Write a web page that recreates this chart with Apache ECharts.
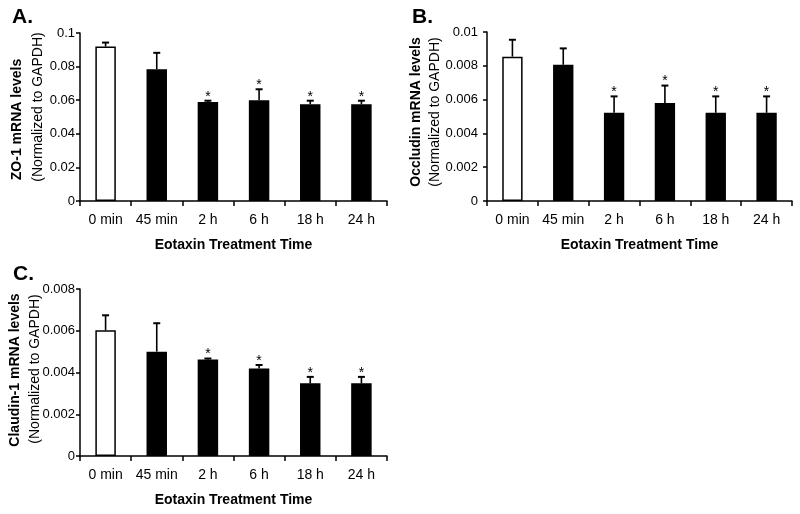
<!DOCTYPE html>
<html>
<head>
<meta charset="utf-8">
<script src="https://cdn.jsdelivr.net/npm/echarts@6/dist/echarts.min.js"></script>
<style>
html,body{margin:0;padding:0;background:#fff;}
#chart{width:800px;height:514px;}
</style>
</head>
<body>
<div id="chart"></div>
<script>
// ---- data ----
const categories = ['0 min', '45 min', '2 h', '6 h', '18 h', '24 h'];
const zo1Mean = [0.0919, 0.0784, 0.0590, 0.0599, 0.0576, 0.0576];
const zo1Err  = [0.0024, 0.0098, 0.0007, 0.0066, 0.0021, 0.0021];
const occMean = [0.00854, 0.00806, 0.00522, 0.00580, 0.00522, 0.00522];
const occErr  = [0.00100, 0.00097, 0.00097, 0.00103, 0.00097, 0.00097];
const claMean = [0.00602, 0.00500, 0.00462, 0.00419, 0.00348, 0.00348];
const claErr  = [0.00072, 0.00136, 0.00005, 0.00017, 0.00031, 0.00031];
const significant = [false, false, true, true, true, true];
const zo1Axis = {max: 0.1, interval: 0.02};
const occAxis = {max: 0.01, interval: 0.002};
const claAxis = {max: 0.008, interval: 0.002};
const panelLabels = ['A.', 'B.', 'C.'];
const yTitleBold = ['ZO-1 mRNA levels', 'Occludin mRNA levels', 'Claudin-1 mRNA levels'];
const yTitleNormal = '(Normalized to GAPDH)';
const xTitle = 'Eotaxin Treatment Time';

// ---- chart ----
const FONT = '"Liberation Sans", Arial, Helvetica, sans-serif';
const chart = echarts.init(document.getElementById('chart'), null, {renderer: 'canvas'});

const grids = [
  {left: 80, top: 33, width: 307, height: 168},
  {left: 487, top: 32, width: 305, height: 169},
  {left: 80, top: 289, width: 307, height: 167}
];
const axes = [zo1Axis, occAxis, claAxis];
const means = [zo1Mean, occMean, claMean];
const errs = [zo1Err, occErr, claErr];
const yLabelMargins = [5, 9, 5];

function renderErr(params, api) {
  const i = api.value(0);
  const p0 = api.coord([i, api.value(1)]);
  const p1 = api.coord([i, api.value(2)]);
  const children = [
    {type: 'line', shape: {x1: p0[0], y1: p0[1], x2: p1[0], y2: p1[1]}, style: {stroke: '#000', lineWidth: 1.6}},
    {type: 'line', shape: {x1: p1[0] - 3.5, y1: p1[1], x2: p1[0] + 3.5, y2: p1[1]}, style: {stroke: '#000', lineWidth: 2}}
  ];
  if (api.value(3)) {
    children.push({type: 'text', style: {text: '*', x: p1[0], y: p1[1] - 4, align: 'center', verticalAlign: 'middle', fontSize: 14, fontFamily: FONT, fill: '#000'}});
  }
  return {type: 'group', children: children};
}

const option = {
  backgroundColor: '#fff',
  animation: false,
  grid: grids.map(g => Object.assign({containLabel: false}, g)),
  xAxis: grids.map((g, k) => ({
    type: 'category', gridIndex: k, data: categories,
    axisLine: {lineStyle: {color: '#000', width: 1.5}},
    axisTick: {show: true, alignWithLabel: false, length: 5, lineStyle: {color: '#000', width: 1.5}},
    axisLabel: {color: '#000', fontSize: 14, fontFamily: FONT, margin: 12, interval: 0},
    name: xTitle, nameLocation: 'middle', nameGap: 37,
    nameTextStyle: {color: '#000', fontSize: 14, fontWeight: 'bold', fontFamily: FONT}
  })),
  yAxis: axes.map((a, k) => ({
    type: 'value', gridIndex: k, min: 0, max: a.max, interval: a.interval,
    axisLine: {show: true, lineStyle: {color: '#000', width: 1.5}},
    axisTick: {show: true, length: 4, lineStyle: {color: '#000', width: 1.5}},
    axisLabel: {color: '#000', fontSize: 13, fontFamily: FONT, margin: yLabelMargins[k]},
    splitLine: {show: false}
  })),
  series: [],
  graphic: []
};

means.forEach((m, k) => {
  option.series.push({
    type: 'bar', xAxisIndex: k, yAxisIndex: k, barWidth: '40%',
    data: m.map((v, i) => ({value: v, itemStyle: {color: i === 0 ? '#ffffff' : '#000000', borderColor: '#000', borderWidth: 1.5}})),
    z: 2
  });
  option.series.push({
    type: 'custom', xAxisIndex: k, yAxisIndex: k, renderItem: renderErr, z: 3,
    data: m.map((v, i) => [i, v, v + errs[k][i], significant[i] ? 1 : 0])
  });
});

// panel letters
const letterPos = [[12, 17], [412, 17], [13, 274.5]];
panelLabels.forEach((t, k) => {
  option.graphic.push({type: 'text', x: letterPos[k][0], y: letterPos[k][1],
    style: {text: t, fontSize: 21, fontWeight: 'bold', fontFamily: FONT, fill: '#000', align: 'left', verticalAlign: 'middle'}});
});
// y axis titles (two lines, rotated)
const boldPos = [[17, 119.5], [416, 112], [15, 370]];
const normPos = [[38.5, 107], [435.5, 112], [35, 369]];
yTitleBold.forEach((t, k) => {
  option.graphic.push({type: 'text', x: boldPos[k][0], y: boldPos[k][1], rotation: Math.PI / 2,
    style: {text: t, fontSize: 14, fontWeight: 'bold', fontFamily: FONT, fill: '#000', align: 'center', verticalAlign: 'middle'}});
  option.graphic.push({type: 'text', x: normPos[k][0], y: normPos[k][1], rotation: Math.PI / 2,
    style: {text: yTitleNormal, fontSize: 14, fontFamily: FONT, fill: '#000', align: 'center', verticalAlign: 'middle'}});
});

chart.setOption(option);
</script>
</body>
</html>
